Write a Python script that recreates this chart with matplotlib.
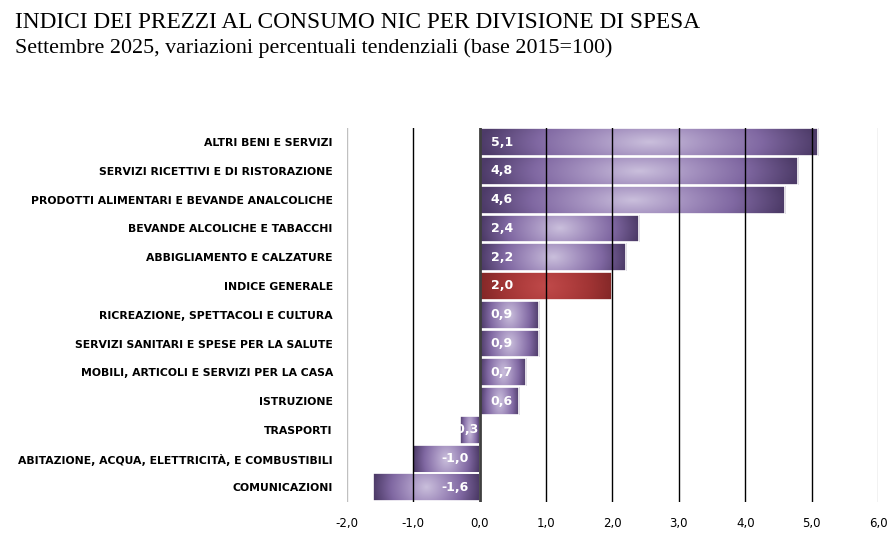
import numpy as np
import matplotlib.pyplot as plt
from matplotlib.colors import LinearSegmentedColormap
from matplotlib.patches import Rectangle

categories = [
    "ALTRI BENI E SERVIZI",
    "SERVIZI RICETTIVI E DI RISTORAZIONE",
    "PRODOTTI ALIMENTARI E BEVANDE ANALCOLICHE",
    "BEVANDE ALCOLICHE E TABACCHI",
    "ABBIGLIAMENTO E CALZATURE",
    "INDICE GENERALE",
    "RICREAZIONE, SPETTACOLI E CULTURA",
    "SERVIZI SANITARI E SPESE PER LA SALUTE",
    "MOBILI, ARTICOLI E SERVIZI PER LA CASA",
    "ISTRUZIONE",
    "TRASPORTI",
    "ABITAZIONE, ACQUA, ELETTRICITÀ, E COMBUSTIBILI",
    "COMUNICAZIONI",
]
values = [5.1, 4.8, 4.6, 2.4, 2.2, 2.0, 0.9, 0.9, 0.7, 0.6, -0.3, -1.0, -1.6]
highlight = "INDICE GENERALE"

purple = LinearSegmentedColormap.from_list("p", ["#cabfdc", "#a592c0", "#8068a2", "#4d3b68"])
red = LinearSegmentedColormap.from_list("r", ["#c04a4a", "#b23f3f", "#a03434", "#842828"])

fig = plt.figure(figsize=(8.96, 5.46), dpi=100)
ax = fig.add_axes([0.387, 0.081, 0.593, 0.685])

h = 0.97
ypos = np.arange(len(values))[::-1]

# gradient fill for each bar, clipped to the bar rectangle
for y, v, cat in zip(ypos, values, categories):
    x0, x1 = min(0, v), max(0, v)
    w = x1 - x0
    xs = np.linspace(-1, 1, 200)
    ys = np.linspace(-1, 1, 40)
    X, Y = np.meshgrid(xs, ys)
    r = np.sqrt(X ** 2 + (Y * 0.3) ** 2)
    cmap = red if cat == highlight else purple
    img = ax.imshow(np.clip(r, 0, 1), cmap=cmap, vmin=0, vmax=1, aspect="auto",
                    extent=(x0, x1, y - h / 2, y + h / 2), zorder=2, interpolation="bilinear")
    rect = Rectangle((x0, y - h / 2), w, h, facecolor="none", edgecolor="white", lw=1.2, zorder=3)
    ax.add_patch(rect)
    img.set_clip_path(rect)
    lab = f"{v:.1f}".replace(".", ",")
    if v >= 0:
        t = ax.text(0.17, y, lab, color="white", fontweight="bold", fontsize=9,
                    ha="left", va="center", zorder=5)
    else:
        tx = -0.17 if v < -0.5 else -0.02
        t = ax.text(tx, y, lab, color="white", fontweight="bold", fontsize=9,
                    ha="right", va="center", zorder=5)
    t.set_clip_path(rect)

ax.set_xlim(-2, 6)
ax.set_ylim(-0.5, len(values) - 0.5)

for gx in [-1, 1, 2, 3, 4, 5]:
    ax.axvline(gx, color="black", lw=1, zorder=4)
for gx in [-2, 6]:
    ax.axvline(gx, color="#c0c0c0", lw=1, zorder=1)
ax.axvline(0, color="#404040", lw=2, zorder=4)

ax.set_yticks(ypos)
ax.set_yticklabels(categories, fontsize=7.8, fontweight="bold")
ax.set_xticks(range(-2, 7))
ax.set_xticklabels([f"{t:.1f}".replace(".", ",") for t in range(-2, 7)], fontsize=8.5)
ax.tick_params(length=0, pad=11)
ax.tick_params(axis="y", pad=10)
for s in ax.spines.values():
    s.set_visible(False)

fig.text(0.017, 0.948, "INDICI DEI PREZZI AL CONSUMO NIC PER DIVISIONE DI SPESA",
         family="Liberation Serif", fontsize=16.8, va="baseline")
fig.text(0.017, 0.903, "Settembre 2025, variazioni percentuali tendenziali (base 2015=100)",
         family="Liberation Serif", fontsize=15.8, va="baseline")

plt.savefig("out.png", dpi=100)
